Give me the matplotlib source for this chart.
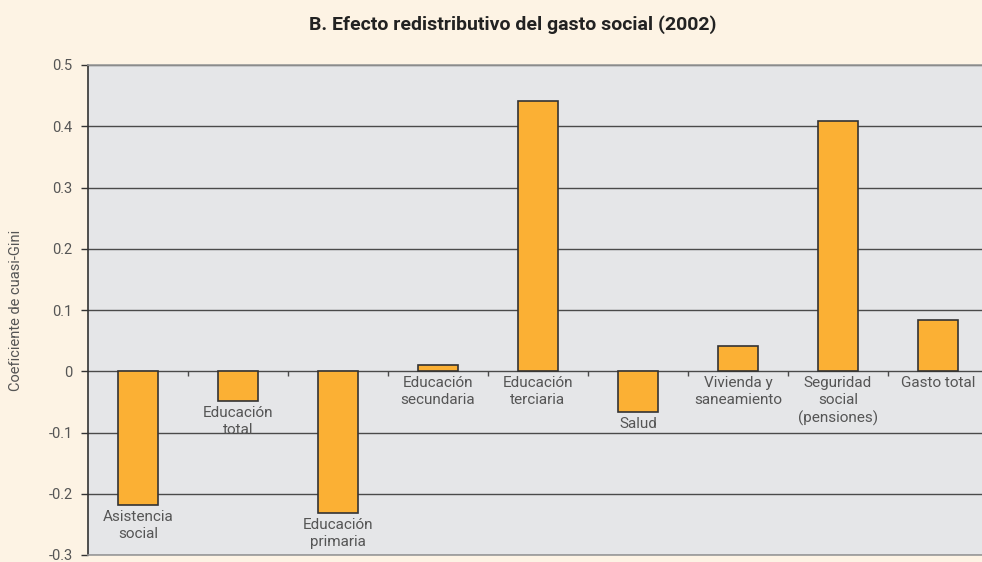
import numpy as np
import matplotlib
matplotlib.use('Agg')
import matplotlib.pyplot as plt

categories = ['Asistencia\nsocial', 'Educación\ntotal', 'Educación\nprimaria',
              'Educación\nsecundaria', 'Educación\nterciaria', 'Salud',
              'Vivienda y\nsaneamiento', 'Seguridad\nsocial\n(pensiones)', 'Gasto total']
values = [-0.218, -0.048, -0.231, 0.010, 0.441, -0.067, 0.042, 0.409, 0.083]
yticks = [-0.3, -0.2, -0.1, 0, 0.1, 0.2, 0.3, 0.4, 0.5]
yticklabels = ['-0.3', '-0.2', '-0.1', '0', '0.1', '0.2', '0.3', '0.4', '0.5']

plt.rcParams['font.family'] = ['Roboto', 'DejaVu Sans']
W, H = 982, 562
fig = plt.figure(figsize=(W / 100, H / 100), dpi=100)
fig.patch.set_facecolor('#fdf3e4')

ax = fig.add_axes([88 / W, 7 / H, 900 / W, 490 / H])
ax.set_facecolor('#e5e6e8')
x = np.arange(len(values))

for y in yticks:
    ax.axhline(y, color='#4a4a4a', linewidth=1.0, zorder=1)

ax.bar(x, values, width=0.4, color='#fbb034', edgecolor='#333333', linewidth=1.2, zorder=3)

# small ticks on the zero line between categories
ax.vlines(np.arange(0.5, len(values) - 1, 1), -0.007, 0, color='#4a4a4a', linewidth=1.0, zorder=2)

for xi, v, lab in zip(x, values, categories):
    ax.text(xi, min(v, 0) - 0.008, lab, ha='center', va='top', fontsize=11,
            color='#555555', linespacing=1.3, zorder=4)

ax.set_xlim(-0.5, 8.5)
ax.set_ylim(-0.3, 0.5)
ax.set_xticks([])
ax.set_yticks(yticks)
ax.set_yticklabels(yticklabels, fontsize=10.5, color='#555555')
ax.tick_params(axis='y', length=5, width=1.0, color='#333333', pad=6)
for s in ['top', 'right', 'bottom']:
    ax.spines[s].set_color('#999999')
    ax.spines[s].set_linewidth(1.2)
ax.spines['left'].set_color('#333333')
ax.spines['left'].set_linewidth(1.2)

ax.set_ylabel('Coeficiente de cuasi-Gini', fontsize=10.5, color='#555555', labelpad=18)
fig.text(513 / W, 1 - 25 / H, 'B. Efecto redistributivo del gasto social (2002)',
         ha='center', va='center', fontsize=14, fontweight='bold', color='#222222')

fig.savefig('out.png', dpi=100, facecolor=fig.get_facecolor())
